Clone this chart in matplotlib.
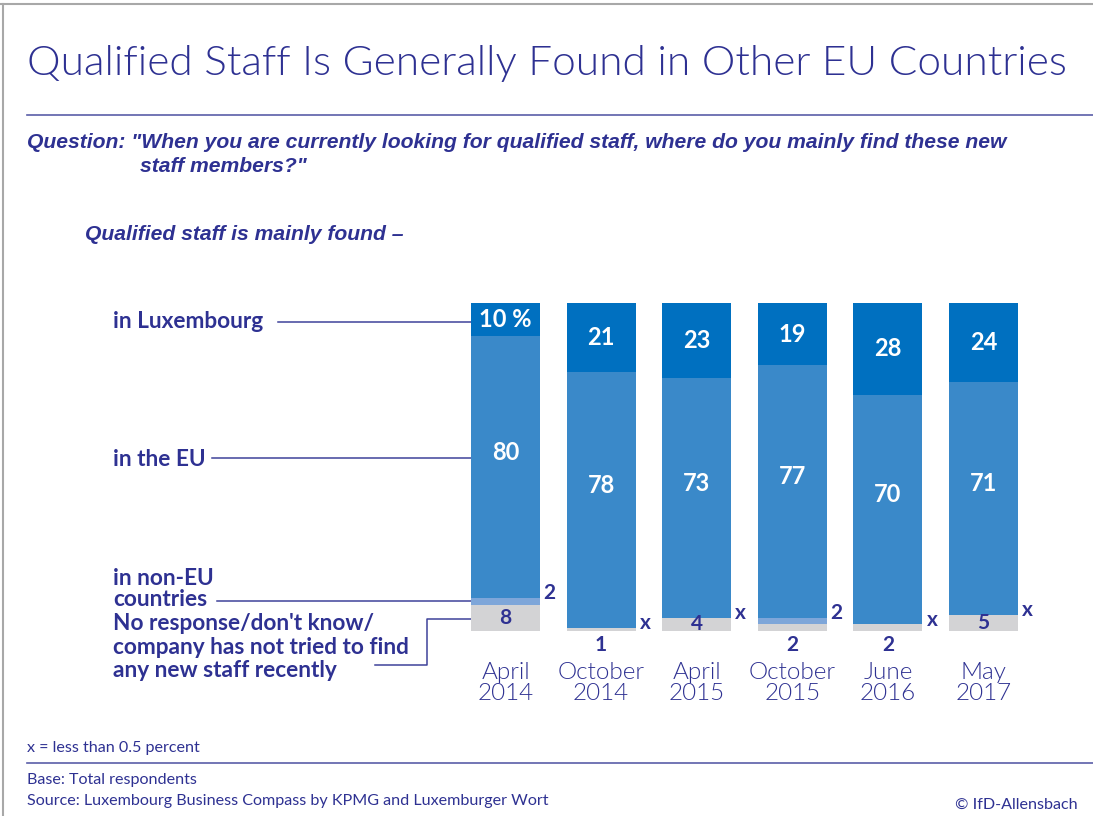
import numpy as np
import matplotlib.pyplot as plt
from matplotlib.lines import Line2D

# survey results, share of respondents in percent
periods = ["April\n2014", "October\n2014", "April\n2015", "October\n2015", "June\n2016", "May\n2017"]
luxembourg = [10, 21, 23, 19, 28, 24]
in_eu = [80, 78, 73, 77, 70, 71]
non_eu = [2, 0, 0, 2, 0, 0]          # 0 stands for "x" (less than 0.5 percent)
no_response = [8, 1, 4, 2, 2, 5]

navy = "#2E3192"
c_lux = "#0070C0"
c_eu = "#3A89C9"
c_noneu = "#7EA6D9"
c_grey = "#D3D3D5"

W, H = 1093, 816
fig = plt.figure(figsize=(W / 100, H / 100), dpi=100)

# overlay in pixel units for the text and guide lines
ov = fig.add_axes([0, 0, 1, 1])
ov.set_xlim(0, W)
ov.set_ylim(H, 0)
ov.axis("off")

# bar chart
ax = fig.add_axes([457.7 / W, (H - 631) / H, 573.6 / W, 328 / H])
ax.patch.set_visible(False)
x = np.arange(len(periods))
bw = 0.72
b0 = np.zeros(len(x))
b1 = b0 + np.array(no_response)
b2 = b1 + np.array(non_eu)
b3 = b2 + np.array(in_eu)
ax.bar(x, no_response, bw, bottom=b0, color=c_grey)
ax.bar(x, non_eu, bw, bottom=b1, color=c_noneu)
ax.bar(x, in_eu, bw, bottom=b2, color=c_eu)
ax.bar(x, luxembourg, bw, bottom=b3, color=c_lux)
ax.set_xlim(-0.5, len(x) - 0.5)
ax.set_ylim(0, 100)
for s in ax.spines.values():
    s.set_visible(False)
ax.set_yticks([])
ax.set_xticks(x)
ax.set_xticklabels(periods, fontsize=17.5, color=navy, family="Lato",
                   fontweight=300, linespacing=1.05)
ax.tick_params(axis="x", length=0, pad=22)

lab = dict(ha="center", va="center", fontweight="bold", family="Lato")
for i in x:
    t = "10 %" if i == 0 else str(luxembourg[i])
    ax.text(i, b3[i] + luxembourg[i] / 2, t, color="white", fontsize=17, **lab)
    ax.text(i, b2[i] + in_eu[i] / 2 + 4.5, str(in_eu[i]), color="white", fontsize=17, **lab)
    ne = "x" if non_eu[i] < 0.5 else str(non_eu[i])
    ax.text(i + bw / 2 + 0.1, b2[i] + 1.5, ne, color=navy, fontsize=15, **lab)
    if no_response[i] >= 4:
        ax.text(i, no_response[i] / 2, str(no_response[i]), color=navy, fontsize=15, **lab)
    else:
        ax.text(i, -4.3, str(no_response[i]), color=navy, fontsize=15, **lab)

# frame lines
ov.add_line(Line2D([0, W], [4, 4], color="#A8A8A8", lw=1.5))
ov.add_line(Line2D([3, 3], [4, H], color="#A8A8A8", lw=1.5))
ov.add_line(Line2D([27, W], [115, 115], color="#5A5EA8", lw=1.2))
ov.add_line(Line2D([27, W], [763, 763], color="#5A5EA8", lw=1.2))

# headings
ov.text(27, 63, "Qualified Staff Is Generally Found in Other EU Countries", fontsize=30.5,
        color=navy, family="Lato", fontweight=300, va="center")
q = dict(fontsize=15.2, color=navy, family="Liberation Sans", fontweight="bold",
         style="italic", va="center")
ov.text(27, 143, 'Question: "When you are currently looking for qualified staff, where do you mainly find these new', **q)
ov.text(140, 167, 'staff members?"', **q)
ov.text(85, 235, "Qualified staff is mainly found \u2013", **q)

# category names with guide lines to the bars
cat = dict(fontsize=16.3, color=navy, family="Lato", fontweight="bold", va="center",
           linespacing=1.05)
ov.text(113, 322, "in Luxembourg", **cat)
ov.text(113, 460, "in the EU", **cat)
ov.text(113, 589, "in non-EU\ncountries", **cat)
ov.text(113, 647, "No response/don't know/\ncompany has not tried to find\nany new staff recently",
        **dict(cat, linespacing=1.17))
gl = dict(color="#3F439A", lw=1.1)
ov.add_line(Line2D([278, 472], [322, 322], **gl))
ov.add_line(Line2D([212, 472], [458, 458], **gl))
ov.add_line(Line2D([217, 472], [601, 601], **gl))
ov.add_line(Line2D([375, 427, 427, 472], [665, 665, 619, 619], **gl))

# footer
ft = dict(fontsize=11.6, color=navy, family="Lato", va="center")
ov.text(27, 748, "x = less than 0.5 percent", **ft)
ov.text(27, 780, "Base: Total respondents", **ft)
ov.text(27, 801, "Source: Luxembourg Business Compass by KPMG and Luxemburger Wort", **ft)
ov.text(1078, 805, "\u00a9 IfD-Allensbach", ha="right", **ft)

fig.savefig("out.png", dpi=100)
